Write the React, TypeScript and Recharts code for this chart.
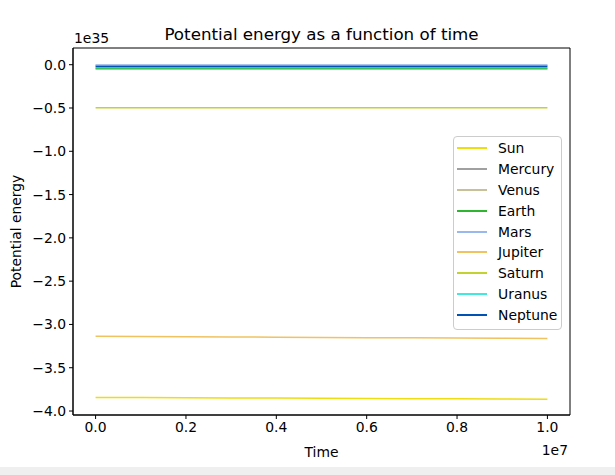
import React from "react";
import { LineChart, Line, XAxis, YAxis, ReferenceArea } from "recharts";

// time in seconds, energies in units of 1e35 J
const times = [0, 1e6, 2e6, 3e6, 4e6, 5e6, 6e6, 7e6, 8e6, 9e6, 1e7];

const sun = [-3.844, -3.845, -3.847, -3.849, -3.851, -3.853, -3.855, -3.857, -3.859, -3.861, -3.863];
const mercury = [-0.008, -0.008, -0.008, -0.008, -0.008, -0.008, -0.008, -0.008, -0.008, -0.008, -0.008];
const venus = [-0.05, -0.05, -0.05, -0.05, -0.05, -0.05, -0.05, -0.05, -0.05, -0.05, -0.05];
const earth = [-0.045, -0.045, -0.045, -0.045, -0.045, -0.045, -0.045, -0.045, -0.045, -0.045, -0.045];
const mars = [-0.003, -0.003, -0.003, -0.003, -0.003, -0.003, -0.003, -0.003, -0.003, -0.003, -0.003];
const jupiter = [-3.135, -3.138, -3.141, -3.144, -3.147, -3.15, -3.153, -3.155, -3.157, -3.16, -3.162];
const saturn = [-0.497, -0.497, -0.497, -0.497, -0.497, -0.498, -0.498, -0.498, -0.498, -0.498, -0.498];
const uranus = [-0.032, -0.032, -0.032, -0.032, -0.032, -0.032, -0.032, -0.032, -0.032, -0.032, -0.032];
const neptune = [-0.02, -0.02, -0.02, -0.02, -0.02, -0.02, -0.02, -0.02, -0.02, -0.02, -0.02];

const bodies = [
  { key: "Sun", values: sun, color: "#eedd10" },
  { key: "Mercury", values: mercury, color: "#a0a0a0" },
  { key: "Venus", values: venus, color: "#c8c096" },
  { key: "Earth", values: earth, color: "#30b530" },
  { key: "Mars", values: mars, color: "#98b8ee" },
  { key: "Jupiter", values: jupiter, color: "#f0c260" },
  { key: "Saturn", values: saturn, color: "#c2d232" },
  { key: "Uranus", values: uranus, color: "#40e8e0" },
  { key: "Neptune", values: neptune, color: "#0052b4" },
];

const xTicks = [0, 2e6, 4e6, 6e6, 8e6, 1e7];
const yTicks = [0, -0.5, -1, -1.5, -2, -2.5, -3, -3.5, -4];
const xDomain = [-5e5, 1.05e7];
const yDomain = [-4.046, 0.193];

const data = times.map((t, i) => {
  const row: Record<string, number> = { t };
  bodies.forEach((b) => (row[b.key] = b.values[i]));
  return row;
});

const FONT = "DejaVu Sans, sans-serif";
const fmtY = (v: number) => v.toFixed(1).replace("-", "\u2212");
const fmtX = (v: number) => (v / 1e7).toFixed(1);

const tickStyle = { fill: "#000", fontSize: 13.9, fontFamily: FONT };

function LegendBox() {
  return (
    <div
      style={{
        position: "absolute",
        left: 453,
        top: 136,
        width: 109,
        height: 194,
        border: "1px solid #cccccc",
        borderRadius: 4,
        background: "rgba(255,255,255,0.8)",
        fontFamily: FONT,
        fontSize: 13.9,
        boxSizing: "border-box",
        paddingTop: 1,
      }}
    >
      {bodies.map((b) => (
        <div key={b.key} style={{ display: "flex", alignItems: "center", height: 20.8 }}>
          <div style={{ width: 30, height: 2, background: b.color, marginLeft: 3, marginRight: 11 }} />
          <span style={{ lineHeight: "16px" }}>{b.key}</span>
        </div>
      ))}
    </div>
  );
}

export default function App() {
  return (
    <div style={{ position: "absolute", left: 0, top: 0, width: 615, height: 475, background: "#fff" }}>
      <LineChart width={615} height={475} data={data} margin={{ top: 48, right: 45, bottom: 0, left: 0 }}>
        <XAxis
          dataKey="t"
          type="number"
          domain={xDomain}
          allowDataOverflow
          ticks={xTicks}
          interval={0}
          tickFormatter={fmtX}
          tick={tickStyle}
          tickSize={4}
          tickMargin={3}
          height={60}
          stroke="#000"
        />
        <YAxis
          type="number"
          domain={yDomain}
          allowDataOverflow
          ticks={yTicks}
          interval={0}
          tickFormatter={fmtY}
          tick={tickStyle}
          tickSize={4}
          tickMargin={3}
          width={73}
          stroke="#000"
        />
        {bodies.map((b) => (
          <Line
            key={b.key}
            dataKey={b.key}
            name={b.key}
            stroke={b.color}
            strokeWidth={1.5}
            dot={false}
            isAnimationActive={false}
          />
        ))}
        <ReferenceArea
          x1={xDomain[0]}
          x2={xDomain[1]}
          y1={yDomain[0]}
          y2={yDomain[1]}
          fill="none"
          stroke="#000"
          strokeWidth={1}
          ifOverflow="visible"
        />
      </LineChart>
      <LegendBox />
      <svg width={615} height={475} style={{ position: "absolute", left: 0, top: 0, pointerEvents: "none" }}>
        <text x={321.5} y={40} textAnchor="middle" fontFamily={FONT} fontSize={16.7}>
          Potential energy as a function of time
        </text>
        <text x={74} y={43} fontFamily={FONT} fontSize={13.9}>1e35</text>
        <text x={321.5} y={457} textAnchor="middle" fontFamily={FONT} fontSize={13.9}>Time</text>
        <text x={568} y={455} textAnchor="end" fontFamily={FONT} fontSize={13.9}>1e7</text>
        <text x={21} y={231.5} textAnchor="middle" fontFamily={FONT} fontSize={13.9} transform="rotate(-90 21 231.5)">
          Potential energy
        </text>
        <rect x={0} y={467} width={615} height={8} fill="#efefef" />
      </svg>
    </div>
  );
}
